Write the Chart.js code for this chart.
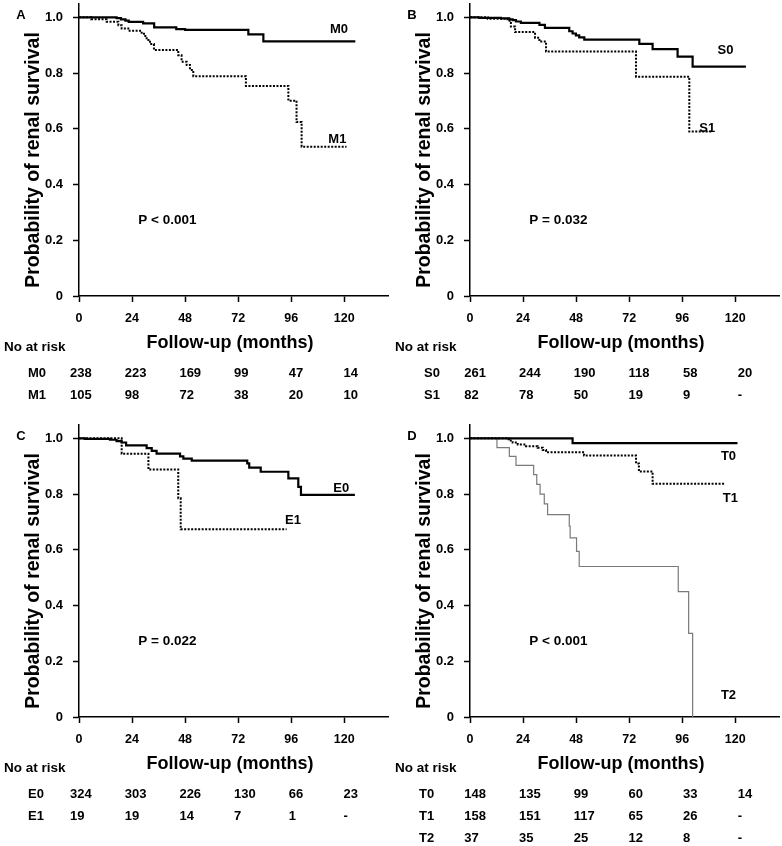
<!DOCTYPE html>
<html lang="en">
<head>
<meta charset="UTF-8">
<title>Renal survival</title>
<script src="https://cdn.jsdelivr.net/npm/chart.js"></script>
<style>
  body { margin: 0; background: #fff; }
  #wrap { position: relative; width: 782px; height: 846px; }
  canvas { position: absolute; }
  #cA { left: 0; top: 0; }
  #cB { left: 391px; top: 0; }
  #cC { left: 0; top: 421px; }
  #cD { left: 391px; top: 421px; }
</style>
</head>
<body>
<div id="wrap">
  <canvas id="cA" width="391" height="421"></canvas>
  <canvas id="cB" width="391" height="421"></canvas>
  <canvas id="cC" width="391" height="425"></canvas>
  <canvas id="cD" width="391" height="425"></canvas>
</div>
<script>
// axis ticks
const tickMonths = [0, 24, 48, 72, 96, 120];
const probTicks = [0, 0.2, 0.4, 0.6, 0.8, 1.0];

// A - M0 / M1
const m0Time = [0, 17, 19, 21, 22.5, 29, 34, 44, 48, 76.6, 83.4, 125];
const m0Surv = [1, 0.997, 0.993, 0.988, 0.984, 0.978, 0.964, 0.958, 0.955, 0.939, 0.914, 0.914];
const m1Time = [0, 5.5, 12.5, 17.8, 19.3, 22.3, 27.6, 29.4, 30.6, 32.1, 33.9, 44.9, 46.4, 48.7, 50.2, 51.7, 75.5, 94.7, 98.4, 100.7, 121];
const m1Surv = [1, 0.993, 0.984, 0.972, 0.96, 0.952, 0.945, 0.933, 0.919, 0.904, 0.883, 0.864, 0.841, 0.829, 0.811, 0.789, 0.754, 0.701, 0.624, 0.536, 0.536];

// B - S0 / S1
const s0Time = [0, 4.2, 14, 17.8, 19.3, 20.8, 23, 31.4, 33.9, 44.9, 46.4, 47.9, 49.4, 51.7, 76.6, 82.6, 93.9, 100.7, 124.8];
const s0Surv = [1, 0.998, 0.996, 0.993, 0.99, 0.985, 0.98, 0.973, 0.962, 0.95, 0.942, 0.935, 0.928, 0.92, 0.905, 0.886, 0.859, 0.823, 0.823];
const s1Time = [0, 8, 17, 18.5, 20.4, 29.4, 31.4, 34.4, 75.1, 99.2, 109.8];
const s1Surv = [1, 0.995, 0.988, 0.967, 0.947, 0.927, 0.913, 0.877, 0.787, 0.59, 0.59];

// C - E0 / E1
const e0Time = [0, 2.7, 14, 17, 19.3, 21.3, 30.6, 32.9, 35.1, 45.7, 47.2, 51, 76.1, 77, 82.2, 94.7, 99.2, 100.4, 124.8];
const e0Surv = [1, 0.998, 0.995, 0.99, 0.985, 0.975, 0.965, 0.955, 0.945, 0.935, 0.927, 0.92, 0.91, 0.895, 0.88, 0.856, 0.826, 0.797, 0.797];
const e1Time = [0, 19.3, 31.4, 44.9, 46, 93.9];
const e1Surv = [1, 0.945, 0.888, 0.785, 0.674, 0.674];

// D - T0 / T1 / T2
const t0Time = [0, 46.4, 121];
const t0Surv = [1, 0.983, 0.983];
const t1Time = [0, 17.5, 19.3, 21.6, 25.3, 30.6, 32.9, 34.4, 51.6, 75.1, 76.4, 82.6, 115];
const t1Surv = [1, 0.992, 0.985, 0.978, 0.972, 0.966, 0.958, 0.95, 0.938, 0.91, 0.881, 0.837, 0.837];
const t2Time = [0, 12.2, 17.8, 20.8, 28.8, 30.2, 31.7, 33.6, 35.1, 44.9, 45.3, 48.2, 49.4, 94.2, 98.9, 100.7];
const t2Surv = [1, 0.967, 0.935, 0.903, 0.87, 0.835, 0.8, 0.765, 0.726, 0.685, 0.643, 0.594, 0.54, 0.45, 0.3, 0];

// numbers at risk at 0, 24, 48, 72, 96, 120 months (null = "-")
const riskM0 = [238, 223, 169, 99, 47, 14];
const riskM1 = [105, 98, 72, 38, 20, 10];
const riskS0 = [261, 244, 190, 118, 58, 20];
const riskS1 = [82, 78, 50, 19, 9, null];
const riskE0 = [324, 303, 226, 130, 66, 23];
const riskE1 = [19, 19, 14, 7, 1, null];
const riskT0 = [148, 135, 99, 60, 33, 14];
const riskT1 = [158, 151, 117, 65, 26, null];
const riskT2 = [37, 35, 25, 12, 8, null];

const FONT = 'Liberation Sans, Arial, sans-serif';

const lineStyles = {
    solid: { borderColor: '#000', borderWidth: 2.2, borderDash: [] },
    dot: { borderColor: '#000', borderWidth: 2, borderDash: [2, 1.5] },
    thin: { borderColor: '#7a7a7a', borderWidth: 1.2, borderDash: [] }
};

const panels = [
    { id: 'cA', letter: 'A', p: 'P < 0.001', rowX: 28, colX: 70,
      series: [[m0Time, m0Surv, 'solid'], [m1Time, m1Surv, 'dot']],
      labels: [['M0', 113.5, 0.959], ['M1', 112.8, 0.567]],
      rows: [['M0', riskM0], ['M1', riskM1]] },
    { id: 'cB', letter: 'B', p: 'P = 0.032', rowX: 33, colX: 73.3,
      series: [[s0Time, s0Surv, 'solid'], [s1Time, s1Surv, 'dot']],
      labels: [['S0', 112.0, 0.886], ['S1', 103.7, 0.605]],
      rows: [['S0', riskS0], ['S1', riskS1]] },
    { id: 'cC', letter: 'C', p: 'P = 0.022', rowX: 28, colX: 70,
      series: [[e0Time, e0Surv, 'solid'], [e1Time, e1Surv, 'dot']],
      labels: [['E0', 115.0, 0.825], ['E1', 93.2, 0.71]],
      rows: [['E0', riskE0], ['E1', riskE1]] },
    { id: 'cD', letter: 'D', p: 'P < 0.001', rowX: 28, colX: 73.3,
      series: [[t0Time, t0Surv, 'solid'], [t1Time, t1Surv, 'dot'], [t2Time, t2Surv, 'thin']],
      labels: [['T0', 113.5, 0.937], ['T1', 114.3, 0.788], ['T2', 113.5, 0.082]],
      rows: [['T0', riskT0], ['T1', riskT1], ['T2', riskT2]] }
];

// text around each plot: letter, axis titles, p value, curve names, at-risk table
function textPlugin(panel) {
    return {
        id: 'kmText',
        afterDraw(chart) {
            const ctx = chart.ctx;
            const area = chart.chartArea;
            const xs = chart.scales.x, ys = chart.scales.y;
            const b = area.bottom;
            ctx.save();
            ctx.fillStyle = '#000';
            ctx.textBaseline = 'alphabetic';

            ctx.font = 'bold 13px ' + FONT;
            ctx.textAlign = 'center';
            ctx.fillText(panel.letter, 21, 19.2);

            ctx.save();
            ctx.translate(39, 160);
            ctx.rotate(-Math.PI / 2);
            ctx.font = 'bold 19.5px ' + FONT;
            ctx.fillText('Probability of renal survival', 0, 0);
            ctx.restore();

            ctx.font = 'bold 18px ' + FONT;
            ctx.textAlign = 'center';
            ctx.fillText('Follow-up (months)', 230, b + 52.4);

            ctx.textAlign = 'left';
            ctx.font = 'bold 13.5px ' + FONT;
            ctx.fillText('No at risk', 4, b + 54.5);
            ctx.fillText(panel.p, area.left + 59.3, b - 72.5);

            ctx.font = 'bold 13px ' + FONT;
            panel.labels.forEach(([txt, mx, py]) => {
                ctx.fillText(txt, xs.getPixelForValue(mx), ys.getPixelForValue(py) + 4.6);
            });

            panel.rows.forEach(([name, vals], r) => {
                const y = b + 76 + 22 * r + 4.6;
                ctx.fillText(name, panel.rowX, y);
                vals.forEach((v, i) => {
                    ctx.fillText(v === null ? '-' : String(v), panel.colX + i * 54.7, y);
                });
            });
            ctx.restore();
        }
    };
}

function zeroPad(s) {
    s.paddingLeft = 0; s.paddingRight = 0; s.paddingTop = 0; s.paddingBottom = 0;
}

panels.forEach(panel => {
    const canvas = document.getElementById(panel.id);
    const H = canvas.height;
    const datasets = panel.series.map(([t, s, style]) => Object.assign({
        data: t.map((v, i) => ({ x: v, y: s[i] })),
        stepped: true,
        pointRadius: 0,
        fill: false
    }, lineStyles[style]));

    new Chart(canvas.getContext('2d'), {
        type: 'line',
        data: { datasets },
        options: {
            responsive: false,
            animation: false,
            devicePixelRatio: 1,
            events: [],
            layout: { padding: { top: 3.4, right: 2.5, left: 0, bottom: 0 } },
            plugins: { legend: { display: false }, tooltip: { enabled: false } },
            scales: {
                x: {
                    type: 'linear', min: 0, max: 140,
                    afterBuildTicks: s => { s.ticks = tickMonths.map(v => ({ value: v })); },
                    afterFit: s => { s.height = H - 296; zeroPad(s); },
                    ticks: { color: '#000', padding: 9, maxRotation: 0, autoSkip: false,
                             font: { family: FONT, size: 12.5, weight: 'bold' } },
                    grid: { drawOnChartArea: false, drawTicks: true, tickLength: 6,
                            tickWidth: 1.5, tickColor: '#000', color: '#000' },
                    border: { display: true, color: '#000', width: 1.5 }
                },
                y: {
                    type: 'linear', min: 0, max: 1.05,
                    afterBuildTicks: s => { s.ticks = probTicks.map(v => ({ value: v })); },
                    afterFit: s => { s.width = 79; zeroPad(s); },
                    ticks: { color: '#000', padding: 10,
                             callback: v => v === 0 ? '0' : v.toFixed(1),
                             font: { family: FONT, size: 13, weight: 'bold' } },
                    grid: { drawOnChartArea: false, drawTicks: true, tickLength: 6,
                            tickWidth: 1.5, tickColor: '#000', color: '#000' },
                    border: { display: true, color: '#000', width: 1.5 }
                }
            }
        },
        plugins: [textPlugin(panel)]
    });
});
</script>
</body>
</html>
